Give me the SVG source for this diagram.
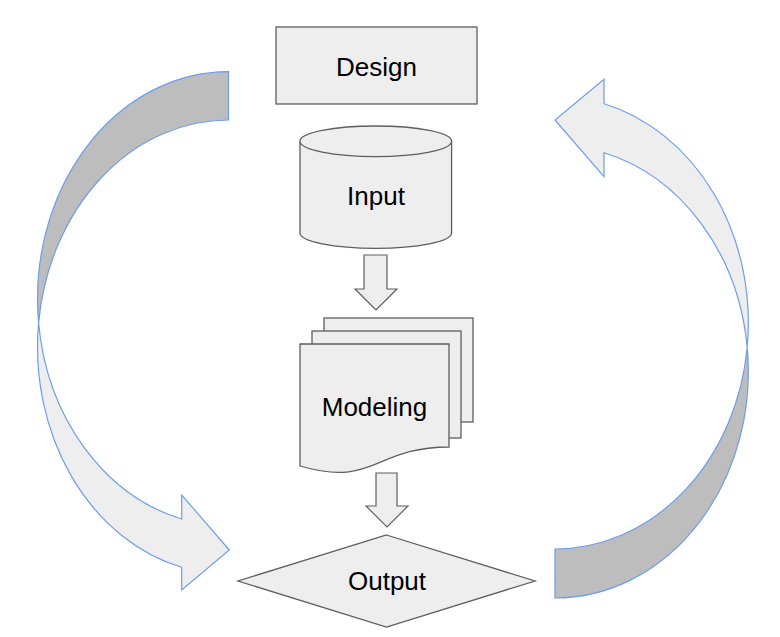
<svg xmlns="http://www.w3.org/2000/svg" width="780" height="637" viewBox="0 0 780 637">
<style>
.node{fill:#eeeeee;stroke:#5e5e5e;stroke-width:1.3}
.lbl{font-family:"Liberation Sans",Arial,sans-serif;font-size:26px;fill:#000;text-anchor:middle}
.back{fill:#bdbdbd;stroke:#6d9eeb;stroke-width:1.2}
.front{fill:#eeeeee;stroke:#6d9eeb;stroke-width:1.2}
.blk{fill:#eeeeee;stroke:#5e5e5e;stroke-width:1.2}
</style>
<rect width="780" height="637" fill="#ffffff"/>
<g id="connectors">
  <g id="loop-left">
    <path class="front" d="M38.6,323 A191,227.1 0 0,0 181.7,519 L181.7,495 L229.3,550 L181.7,590 L181.7,567.3 A191,227.1 0 0,1 38.6,323 Z"/>
    <path class="back" d="M228.5,71.7 A191,227.1 0 0,0 38.6,323 A191,227.1 0 0,1 228.5,120 Z"/>
  </g>
  <g id="loop-right">
    <path class="front" d="M747.2,347.2 A193.3,226.3 0 0,0 604,152.7 L604,176.7 L555,120 L604,79.3 L604,103.7 A193.3,226.3 0 0,1 747.2,347.2 Z"/>
    <path class="back" d="M555,598 A193.3,226.3 0 0,0 747.2,347.2 A193.3,226.3 0 0,1 555,549 Z"/>
  </g>
  <path id="arrow-input-modeling" class="blk" d="M364,255 H387 V289 H397 L376,310 L355,289 H364 Z"/>
  <path id="arrow-modeling-output" class="blk" d="M376,473 H397 V506 H408 L387,527 L366,506 H376 Z"/>
</g>
<g id="design">
  <rect class="node" x="276" y="27" width="201" height="77"/>
  <text class="lbl" x="376.5" y="76">Design</text>
</g>
<g id="input">
  <path class="node" d="M300,141.3 V233 A75.8,15.3 0 0,0 451.6,233 V141.3 A75.8,15.3 0 0,0 300,141.3 Z"/>
  <path class="node" fill="none" d="M300,141.3 A75.8,15.3 0 0,0 451.6,141.3"/>
  <text class="lbl" x="376" y="205">Input</text>
</g>
<g id="modeling">
  <rect class="node" x="324" y="318" width="149" height="104"/>
  <rect class="node" x="312" y="331" width="149" height="107"/>
  <path class="node" d="M300,344 H449 V447 C374.5,447 374.5,488 300,466 Z"/>
  <text class="lbl" x="374.5" y="415.5">Modeling</text>
</g>
<g id="output">
  <path class="node" d="M386.5,535 L535,581 L386.5,627 L238,581 Z"/>
  <text class="lbl" x="387" y="590">Output</text>
</g>
</svg>
